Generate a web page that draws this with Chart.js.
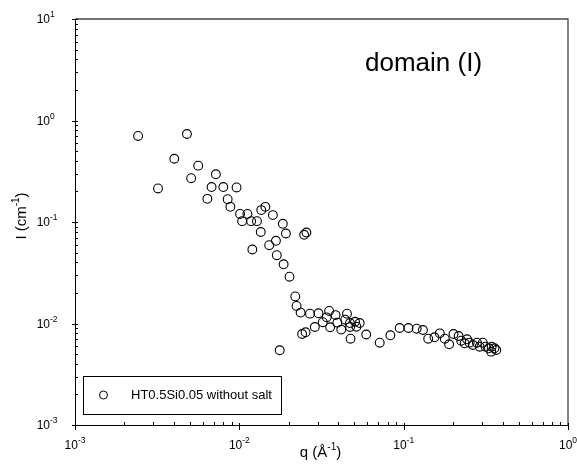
<!DOCTYPE html>
<html>
<head>
<meta charset="utf-8">
<script src="https://cdn.jsdelivr.net/npm/chart.js@4.4.1/dist/chart.umd.min.js"></script>
<style>
html,body{margin:0;padding:0;background:#fff;}
#c{display:block;}
</style>
</head>
<body>
<canvas id="c" width="577" height="472"></canvas>
<script>
// q (Å^-1) values
const qValues = [
  0.00242, 0.00480, 0.00402, 0.00562, 0.00509, 0.00320, 0.00720, 0.00678, 0.00799, 0.00962,
  0.00639, 0.00849, 0.00882, 0.0101, 0.0112, 0.0104, 0.0118, 0.0128, 0.0136, 0.0144,
  0.0160, 0.0184, 0.0192, 0.0135, 0.0167, 0.0152, 0.0120, 0.0169, 0.0186, 0.0202,
  0.0219, 0.0248, 0.0256, 0.0223, 0.0236, 0.0269, 0.0303, 0.0352, 0.0340, 0.0385,
  0.0452, 0.0322, 0.0357, 0.0288, 0.0253, 0.0241, 0.0417, 0.0395, 0.0441, 0.0471,
  0.0506, 0.0540, 0.0472, 0.0516, 0.0475, 0.0592, 0.0715, 0.0176, 0.0830, 0.0946,
  0.107, 0.120, 0.131, 0.141, 0.154, 0.166, 0.178, 0.189, 0.201, 0.216,
  0.224, 0.243, 0.235, 0.252, 0.264, 0.279, 0.290, 0.303, 0.315, 0.330,
  0.343, 0.357, 0.366, 0.341
];
// I (cm^-1) values
const iValues = [
  0.704, 0.736, 0.420, 0.359, 0.270, 0.214, 0.295, 0.221, 0.221, 0.219,
  0.169, 0.168, 0.141, 0.120, 0.120, 0.102, 0.102, 0.102, 0.131, 0.141,
  0.117, 0.0960, 0.0770, 0.0797, 0.0653, 0.0591, 0.0536, 0.0471, 0.0383, 0.0289,
  0.0185, 0.0748, 0.0788, 0.0149, 0.0128, 0.0125, 0.0126, 0.0133, 0.0115, 0.0121,
  0.0125, 0.0103, 0.00918, 0.00924, 0.00819, 0.00788, 0.00871, 0.0102, 0.0109, 0.0101,
  0.0104, 0.0101, 0.00924, 0.00930, 0.00708, 0.00779, 0.00647, 0.00545, 0.00765, 0.00903,
  0.00903, 0.00889, 0.00863, 0.00708, 0.00731, 0.00800, 0.00708, 0.00624, 0.00788, 0.00753,
  0.00677, 0.00699, 0.00638, 0.00647, 0.00614, 0.00647, 0.00591, 0.00647, 0.00591, 0.00570,
  0.00591, 0.00570, 0.00548, 0.00528
];
// tick values and labels (base 10 with exponent)
const xMajorTicks = [0.001, 0.01, 0.1, 1];
const xTickExponents = ["-3", "-2", "-1", "0"];
const yMajorTicks = [0.001, 0.01, 0.1, 1, 10];
const yTickExponents = ["-3", "-2", "-1", "0", "1"];
const seriesLabel = "HT0.5Si0.05 without salt";
const annotationText = "domain (I)";

const FONT = '"Liberation Sans", Arial, sans-serif';

function minorTicks(majors) {
  const out = [];
  for (let i = 0; i < majors.length - 1; i++) {
    for (let m = 2; m <= 9; m++) out.push(majors[i] * m);
  }
  return out;
}

function drawPow(ctx, exp, x, y, align) {
  ctx.save();
  ctx.textBaseline = 'middle';
  ctx.fillStyle = '#000';
  const baseFont = '12px ' + FONT, expFont = '8.5px ' + FONT;
  ctx.font = baseFont;
  const wb = ctx.measureText('10').width;
  ctx.font = expFont;
  const we = ctx.measureText(exp).width;
  let x0;
  if (align === 'center') x0 = x - (wb + we) / 2;
  else if (align === 'baseRight') x0 = x - wb;
  else x0 = x;
  ctx.textAlign = 'left';
  ctx.font = baseFont;
  ctx.fillText('10', x0, y);
  ctx.font = expFont;
  ctx.fillText(exp, x0 + wb, y - 5);
  ctx.restore();
}

const decorPlugin = {
  id: 'decor',
  afterDraw(chart) {
    const ctx = chart.ctx;
    const xs = chart.scales.x, ys = chart.scales.y;
    const a = chart.chartArea;
    ctx.save();
    // frame top & right
    ctx.strokeStyle = '#444';
    ctx.lineWidth = 1.3;
    ctx.beginPath();
    ctx.moveTo(a.left, a.top); ctx.lineTo(a.right, a.top); ctx.lineTo(a.right, a.bottom);
    ctx.stroke();
    // axes left/bottom
    ctx.strokeStyle = '#000';
    ctx.lineWidth = 1;
    ctx.beginPath();
    ctx.moveTo(a.left + 0.5, a.top); ctx.lineTo(a.left + 0.5, a.bottom + 0.5); ctx.lineTo(a.right, a.bottom + 0.5);
    ctx.stroke();
    // ticks
    ctx.beginPath();
    xMajorTicks.forEach(v => {
      const px = Math.round(xs.getPixelForValue(v)) + 0.5;
      ctx.moveTo(px, a.bottom - 2); ctx.lineTo(px, a.bottom + 5);
    });
    minorTicks(xMajorTicks).forEach(v => {
      const px = Math.round(xs.getPixelForValue(v)) + 0.5;
      ctx.moveTo(px, a.bottom); ctx.lineTo(px, a.bottom - 3);
    });
    yMajorTicks.forEach(v => {
      const py = Math.round(ys.getPixelForValue(v)) + 0.5;
      ctx.moveTo(a.left - 3, py); ctx.lineTo(a.left + 3, py);
    });
    minorTicks(yMajorTicks).forEach(v => {
      const py = Math.round(ys.getPixelForValue(v)) + 0.5;
      ctx.moveTo(a.left, py); ctx.lineTo(a.left + 3, py);
    });
    ctx.stroke();
    // tick labels
    xMajorTicks.forEach((v, i) => {
      drawPow(ctx, xTickExponents[i], xs.getPixelForValue(v), a.bottom + 21, 'center');
    });
    yMajorTicks.forEach((v, i) => {
      drawPow(ctx, yTickExponents[i], 50, ys.getPixelForValue(v) + 1, 'baseRight');
    });
    // axis titles
    const tf = '15px ' + FONT, tsf = '10px ' + FONT;
    function titleParts(pre, sup, post) {
      ctx.font = tf; const w1 = ctx.measureText(pre).width; const w3 = ctx.measureText(post).width;
      ctx.font = tsf; const w2 = ctx.measureText(sup).width;
      return {w1, w2, w3, total: w1 + w2 + w3};
    }
    ctx.fillStyle = '#000';
    ctx.textBaseline = 'alphabetic';
    ctx.textAlign = 'left';
    {
      const p = titleParts('q (Å', '-1', ')');
      const cx = (a.left + a.right) / 2 - 1;
      let x0 = cx - p.total / 2, by = 457;
      ctx.font = tf; ctx.fillText('q (Å', x0, by);
      ctx.font = tsf; ctx.fillText('-1', x0 + p.w1, by - 7);
      ctx.font = tf; ctx.fillText(')', x0 + p.w1 + p.w2, by);
    }
    {
      const p = titleParts('I (cm', '-1', ')');
      ctx.save();
      ctx.translate(26, 216);
      ctx.rotate(-Math.PI / 2);
      let x0 = -p.total / 2, by = 0;
      ctx.font = tf; ctx.fillText('I (cm', x0, by);
      ctx.font = tsf; ctx.fillText('-1', x0 + p.w1, by - 7);
      ctx.font = tf; ctx.fillText(')', x0 + p.w1 + p.w2, by);
      ctx.restore();
    }
    // annotation
    ctx.font = '26px ' + FONT;
    ctx.textBaseline = 'alphabetic';
    ctx.fillText(annotationText, 365, 71);
    // legend
    ctx.strokeStyle = '#000';
    ctx.lineWidth = 1;
    ctx.strokeRect(83.5, 376.5, 198, 38);
    ctx.beginPath();
    ctx.arc(103.5, 395, 4, 0, Math.PI * 2);
    ctx.stroke();
    ctx.font = '13px ' + FONT;
    ctx.textBaseline = 'middle';
    ctx.fillText(seriesLabel, 131, 395.5);
    ctx.restore();
  }
};

const points = qValues.map((q, i) => ({x: q, y: iValues[i]}));

new Chart(document.getElementById('c'), {
  type: 'scatter',
  data: {
    datasets: [{
      label: seriesLabel,
      data: points,
      pointStyle: 'circle',
      pointRadius: 4.4,
      pointBorderWidth: 1.1,
      pointBorderColor: '#000',
      pointBackgroundColor: 'rgba(0,0,0,0)'
    }]
  },
  options: {
    responsive: false,
    animation: false,
    devicePixelRatio: 1,
    layout: {padding: {top: 19, right: 9, left: 0, bottom: 0}},
    plugins: {legend: {display: false}, tooltip: {enabled: false}},
    scales: {
      x: {
        type: 'logarithmic', min: 0.001, max: 1,
        grid: {display: false, drawTicks: false},
        border: {display: false},
        ticks: {display: false},
        afterFit(s) { s.height = 47; }
      },
      y: {
        type: 'logarithmic', min: 0.001, max: 10,
        grid: {display: false, drawTicks: false},
        border: {display: false},
        ticks: {display: false},
        afterFit(s) { s.width = 75; }
      }
    }
  },
  plugins: [decorPlugin]
});
</script>
</body>
</html>
